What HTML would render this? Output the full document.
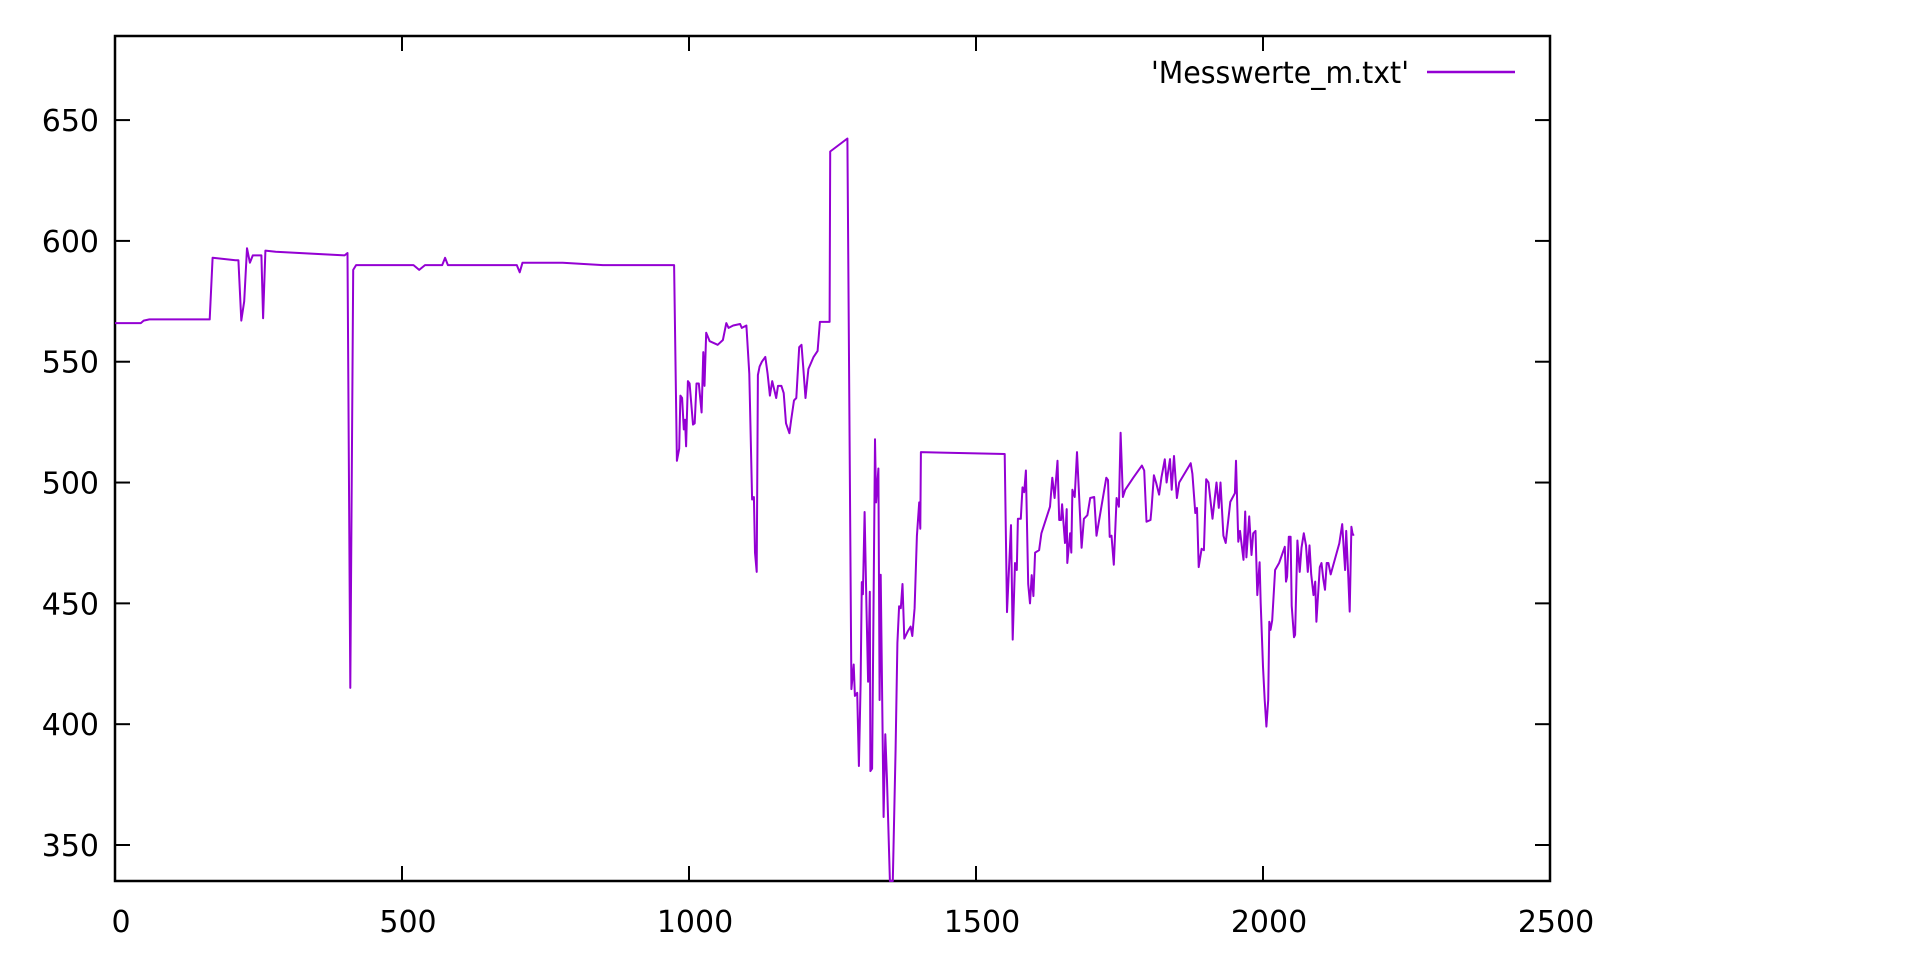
<!DOCTYPE html>
<html><head><meta charset="utf-8"><style>
html,body{margin:0;padding:0;background:#fff;}
svg{display:block;font-family:"DejaVu Sans","Liberation Sans",sans-serif;}
</style></head><body>
<svg id="chart" width="1920" height="961">
<rect x="0" y="0" width="1920" height="961" fill="#fff"/>
<g id="axes"></g>
<g id="series"></g>
<g>
<text x="1409" y="83" font-size="30" text-anchor="end" textLength="258" lengthAdjust="spacingAndGlyphs">'Messwerte_m.txt'</text>
<line x1="1427" y1="72" x2="1515" y2="72" stroke="#9400d3" stroke-width="2.5"/>
</g>
</svg>
<script>
const xTicks=[0,500,1000,1500,2000,2500];
const yTicks=[350,400,450,500,550,600,650];
const xIdx=[0,45,50,60,165,170,210,215,220,225,230,235,240,255,258,262,280,400,405,410,415,420,520,530,540,570,575,580,700,705,710,780,850,974,
979,983,985,988,991,993,995,998,1001,1007,1010,1013,1017,1022,1025,1027,1030,1036,1050,1059,1065,1069,1077,1089,1092,1100,1105,1110,1113,1115,1118,1120,1123,1127,1133,1137,1141,1145,1149,1152,1155,1161,1165,1169,1175,1178,1183,1187,1192,1196,1199,1203,1208,1217,1224,1228,1245,
1246,1276,1283,1287,1289,1293,1296,1299,1301,1303,1306,1309,1312,1315,1316,1319,1324,1326,1330,1332,1334,1339,1342,1345,1350,1355,1360,1363,1366,1369,1372,1375,1381,1386,1389,1393,1397,1401,1403,1404,1440,1550,
1554,1561,1564,1568,1571,1573,1578,1581,1584,1587,1591,1594,1597,1600,1603,1610,1614,1629,1633,1637,1642,1645,1648,1650,1655,1658,1659,1664,1666,1668,1672,1676,1679,1684,1688,1694,1699,1706,1710,1727,1730,1733,1736,1740,1745,1749,1752,1756,1760,1774,1789,1793,1797,1804,1806,1810,1814,1819,1823,1829,1832,1835,1838,1841,1845,1850,1854,1874,1877,1882,1885,1888,1893,1897,1901,1905,1912,1919,1923,1926,1931,1935,1943,1951,1953,1957,1960,1966,1969,1971,1976,1980,1983,1987,1990,1994,1996,2000,2003,2006,2009,2011,2013,2016,2021,2028,2038,2040,2042,2045,2048,2050,2054,2056,2060,2064,2067,2071,2075,2078,2081,2084,2088,2091,2093,2099,2102,2105,2108,2111,2114,2118,2133,2138,2143,2145,2148,2151,2154,2156,2158];
const yVal=[566,566,567,567.5,567.5,593,592,592,567,575,597,591,594,594,568,596,595.5,594,595,415,588,590,590,588,590,590,593,590,590,587,591,591,590,590,
509,514,536,535,522,526,515,542,541,524,524.5,541,541,529,554,540,562,558.5,557,559,566,564,565,565.6,564,565,545,493,494,471,463,544.5,548,550,552,545,536,542,538,535,540,540,537,524.5,520.4,526,534,535,556,557,548,535,547,552,554.5,566.5,566.5,
637,642.4,414.5,424.7,411.7,413,382.7,416.6,458.8,453.8,487.8,449.8,417.6,454.8,380.6,381.6,517.9,491.8,505.8,410,461.8,361.6,395.8,376.7,335,335,389.7,433.6,448.8,448,458,435.4,438.4,440.4,436.5,448,477.9,491.8,480.9,512.6,512.4,511.8,
446.4,482.4,435,466.7,463.8,485,485,498,496,505,458,450,461.7,453,471,472,479,490,502,493.6,509,484.5,484.5,491,475,489,466.7,479,471,497,494,512.6,498,473,485,486.5,493.6,494,478,502,501,477.5,478,466,493.6,490,520.6,494,497,502,507,505,483.8,484.5,489.5,503,499.8,495,502,509.6,500,505,509.7,497,511,493.6,500,508,503.6,487.4,489.5,465,472.6,472,501.4,500,485,500,489.5,500,478,475,492,495.6,509,475.5,480,468,488,469,486,470,479,480,453.4,467,450,423.8,410,399,410,442.4,439,443,463.8,466.7,473.4,459,461,477.6,477.6,449,436,437,476,463,473,479,474,463,474,462,453.4,459,442.4,465,466.7,460,455.6,466.7,466.7,462,474.8,482.8,463.8,480,463.8,446.6,481.7,479,478];
const L=115,R=1550,T=36,B=881,XMIN=0,XMAX=2500,YMIN=335.1,YMAX=684.8;
function sx(v){return L+(v-XMIN)/(XMAX-XMIN)*(R-L);}
function sy(v){return B-(v-YMIN)/(YMAX-YMIN)*(B-T);}
const NS="http://www.w3.org/2000/svg";
const ax=document.getElementById('axes');
function mk(tag,attrs,parent){const e=document.createElementNS(NS,tag);for(const k in attrs)e.setAttribute(k,attrs[k]);parent.appendChild(e);return e;}
const frame=mk('rect',{x:L,y:T,width:R-L,height:B-T,fill:'none',stroke:'#000','stroke-width':2.5},ax);


xTicks.forEach(t=>{
  const x=sx(t);
  const a=mk('line',{x1:x,y1:B,x2:x,y2:B-15,stroke:'#000','stroke-width':2},ax);
  
  
  const b=mk('line',{x1:x,y1:T,x2:x,y2:T+15,stroke:'#000','stroke-width':2},ax);
  
  
  const tx=mk('text',{x:x+6,y:932,'font-size':30,'text-anchor':'middle'},ax);
  tx.textContent=t;
  
  
});
yTicks.forEach(t=>{
  const y=sy(t);
  const a=mk('line',{x1:L,y1:y,x2:L+15,y2:y,stroke:'#000','stroke-width':2},ax);
  
  
  const b=mk('line',{x1:R,y1:y,x2:R-15,y2:y,stroke:'#000','stroke-width':2},ax);
  
  
  const tx=mk('text',{x:99,y:y+11,'font-size':30,'text-anchor':'end'},ax);
  tx.textContent=t;
  
  
});
const s=document.getElementById('series');
let d='';
xIdx.forEach((x,i)=>{d+=(i?'L':'M')+sx(x).toFixed(1)+','+sy(Math.max(YMIN,yVal[i])).toFixed(1);});
const p=mk('path',{d:d,fill:'none',stroke:'#9400d3','stroke-width':2,'stroke-linejoin':'round'},s);


</script>
</body></html>
